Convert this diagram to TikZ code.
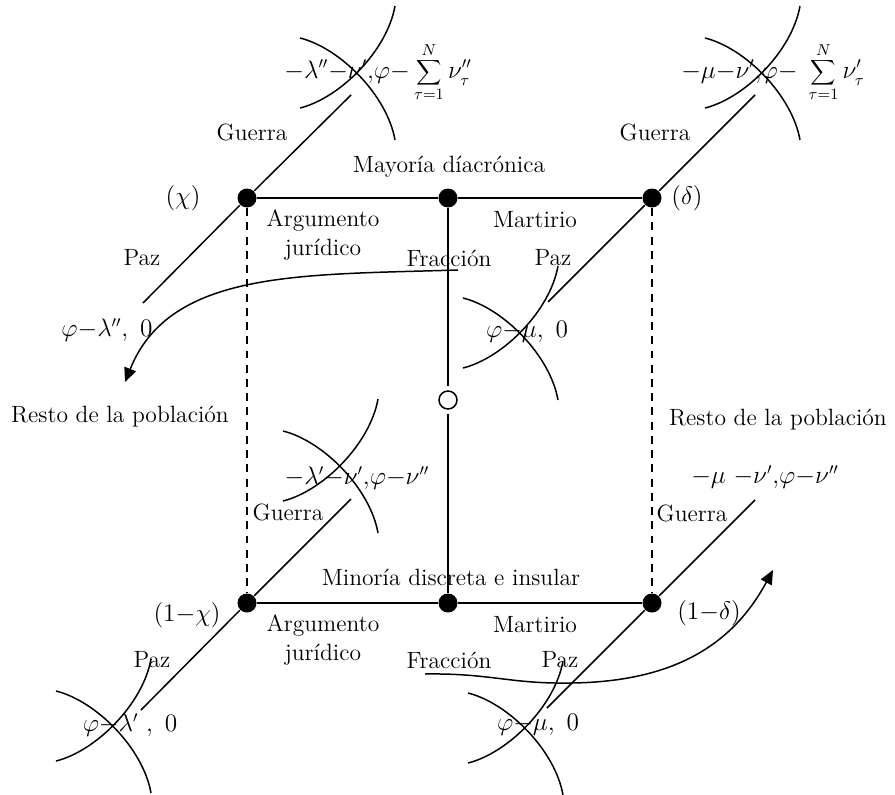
\documentclass[tikz,border=0pt]{standalone}
\usetikzlibrary{arrows.meta}
\begin{document}
\begin{tikzpicture}[x=0.02cm, y=-0.02cm, line width=0.85pt]
	% Estilos
	\tikzset{nodo/.style={circle, fill, inner sep=0pt, minimum size=0.38cm},
		hueco/.style={circle, draw, fill=white, inner sep=0pt, minimum size=0.36cm, outer sep=0.1cm},
		etiq/.style={inner sep=0pt, font=\fontsize{13.4}{17}\selectfont},
		discont/.style={dash pattern=on 4.5pt off 3.6pt},
		flecha/.style={-{Triangle[length=8pt,width=7pt]}}}
	\useasboundingbox (0,0) rectangle (895,794);
	
	% Nodos de decision
	\node[nodo] (chi)     at (247,198) {};
	\node[nodo] (mayoria) at (448,198) {};
	\node[nodo] (delta)   at (652,198) {};
	\node[nodo] (ichi)    at (247,603) {};
	\node[nodo] (minoria) at (448,603) {};
	\node[nodo] (idelta)  at (652,603) {};
	\node[hueco] (fraccion) at (448,400) {};
	
	% Extremos de las ramas Guerra / Paz
	\coordinate (chiG)    at (351,95);
	\coordinate (chiP)    at (143,303);
	\coordinate (deltaG)  at (755,95);
	\coordinate (deltaP)  at (548,302);
	\coordinate (ichiG)   at (351,499);
	\coordinate (ichiP)   at (141,710);
	\coordinate (ideltaG) at (755,500);
	\coordinate (ideltaP) at (547,708);
	
	% Lados del rectangulo
	\draw (chi) -- (mayoria) -- (delta);
	\draw (ichi) -- (minoria) -- (idelta);
	\draw (mayoria) -- (fraccion) -- (minoria);
	\draw[discont] (chi) -- (ichi);
	\draw[discont] (delta) -- (idelta);
	
	% Ramas diagonales
	\draw (chiP) -- (chi) -- (chiG);
	\draw (deltaP) -- (delta) -- (deltaG);
	\draw (ichiP) -- (ichi) -- (ichiG);
	\draw (ideltaP) -- (idelta) -- (ideltaG);
	
	% Arcos cruzados sobre los pagos
	\foreach \cx/\cy in {367/77, 772/77, 530/337, 350/470, 123/730, 535/732} {
		\begin{scope}[shift={(\cx,\cy)}]
			\draw (-67,-39) .. controls (-27,-29) and (20,18) .. (28,63);
			\draw (-67,31) .. controls (-27,21) and (20,-26) .. (28,-71);
		\end{scope}
	}
	
	% Pagos
	\node[etiq] (sumaIzq)     at (378,72)  {$\displaystyle -\lambda''{-}\nu'{,}\varphi{-}\sum_{\tau=1}^{N}\nu''_{\tau}$};
	\node[etiq] (sumaDer)     at (773,72)  {$\displaystyle -\mu{-}\nu'{,}\varphi{-}\;\sum_{\tau=1}^{N}\nu'_{\tau}$};
	\node[etiq] (pagoChi)     at (107,330) {$\varphi{-}\lambda'',\ 0$};
	\node[etiq] (pagoDelta)   at (527,332) {$\varphi{-}\mu,\ 0$};
	\node[etiq] (pagoIchiG)   at (357,478) {$-\lambda'{-}\nu'{,}\varphi{-}\nu''$};
	\node[etiq] (pagoIdeltaG) at (765,477) {$-\mu\ {-}\nu'{,}\varphi{-}\nu''$};
	\node[etiq] (pagoIchi)    at (130,725) {$\varphi{-}\lambda'\ ,\ 0$};
	\node[etiq] (pagoIdelta)  at (538,725) {$\varphi{-}\mu,\ 0$};
	
	% Probabilidades
	\node[etiq] (tChi)    at (183,198) {$(\chi)$};
	\node[etiq] (tDelta)  at (687,198) {$(\delta)$};
	\node[etiq] (tIchi)   at (187,615) {$(1{-}\chi)$};
	\node[etiq] (tIdelta) at (709,613) {$(1{-}\delta)$};
	
	% Textos
	\node[etiq] (guerraChi)    at (252,132) {Guerra};
	\node[etiq] (guerraDelta)  at (655,132) {Guerra};
	\node[etiq] (guerraIchi)   at (288,512) {Guerra};
	\node[etiq] (guerraIdelta) at (692,513) {Guerra};
	\node[etiq] (pazChi)       at (142,258) {Paz};
	\node[etiq] (pazDelta)     at (553,258) {Paz};
	\node[etiq] (pazIchi)      at (152,660) {Paz};
	\node[etiq] (pazIdelta)    at (560,660) {Paz};
	\node[etiq] (tMayoria)     at (449,167) {Mayoría díacrónica};
	\node[etiq] (tMinoria)     at (451,577) {Minoría discreta e insular};
	\node[etiq, align=center] (argSup) at (323,235) {Argumento\\jurídico};
	\node[etiq, align=center] (argInf) at (323,640) {Argumento\\jurídico};
	\node[etiq] (martirioSup)  at (535,220) {Martirio};
	\node[etiq] (martirioInf)  at (535,625) {Martirio};
	\node[etiq] (fraccionSup)  at (449,258) {Fracción};
	\node[etiq] (fraccionInf)  at (449,660) {Fracción};
	\node[etiq] (restoIzq)     at (120,417) {Resto de la población};
	\node[etiq] (restoDer)     at (778,420) {Resto de la población};
	
	% Flechas de la fraccion
	\coordinate (fracSupIni) at (458,270);
	\coordinate (restoIzqFin) at (125,382);
	\coordinate (fracInfIni) at (425,674);
	\coordinate (restoDerFin) at (773,570);
	\draw[flecha] (fracSupIni) .. controls (300,275) and (170,270) .. (restoIzqFin);
	\draw[flecha] (fracInfIni) .. controls (490,673) and (510,684) .. (570,683)
		.. controls (680,682) and (735,640) .. (restoDerFin);
	
\end{tikzpicture}
\end{document}
